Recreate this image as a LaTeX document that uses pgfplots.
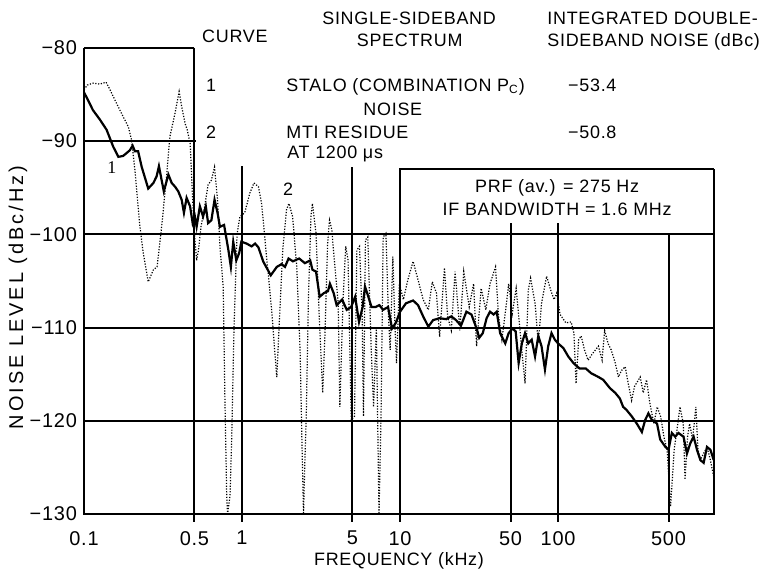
\documentclass[border=0pt]{standalone}
\usepackage{fontspec}
\setmainfont{Liberation Sans}[LetterSpace=4]
\newfontfamily\seriffont{Liberation Serif}
\newfontfamily\widefont{Liberation Sans}[LetterSpace=15]
\usepackage{pgfplots}
\usepackage{pgfplotstable}
\pgfplotsset{compat=1.18}

% curve 1: STALO (combination Pc), solid
\pgfplotstableread{
f db
0.1 -84.8
0.103 -85.2
0.114 -86.7
0.126 -87.7
0.139 -88.8
0.153 -90.6
0.165 -91.7
0.177 -91.6
0.195 -91.0
0.203 -90.5
0.21 -91.1
0.22 -91.1
0.232 -92.8
0.255 -95.1
0.275 -94.5
0.288 -93.8
0.298 -92.7
0.31 -94.2
0.32 -95.4
0.342 -93.6
0.359 -94.5
0.377 -94.9
0.395 -95.4
0.415 -96.3
0.429 -97.7
0.446 -96.1
0.469 -97.0
0.487 -98.8
0.503 -98.1
0.516 -99.2
0.541 -97.0
0.567 -98.1
0.59 -97.0
0.61 -98.8
0.64 -98.5
0.67 -96.3
0.70 -97.7
0.725 -99.2
0.77 -99.0
0.82 -101.7
0.85 -103.5
0.88 -100.8
0.92 -102.8
0.96 -102.0
0.99 -100.8
1.07 -101.0
1.15 -101.3
1.21 -101.0
1.27 -101.4
1.36 -102.9
1.52 -104.4
1.66 -103.5
1.78 -103.2
1.87 -103.5
1.97 -102.6
2.10 -102.9
2.3 -102.6
2.5 -103.1
2.7 -102.8
2.79 -103.8
2.94 -104.0
3.1 -106.7
3.3 -106.3
3.5 -106.1
3.6 -105.3
3.8 -106.3
3.97 -107.6
4.3 -107.0
4.6 -108.1
4.9 -107.8
5.2 -106.7
5.5 -109.4
5.8 -107.8
6.0 -105.6
6.3 -106.7
6.6 -107.8
7.0 -107.8
7.4 -107.6
7.8 -108.1
8.4 -107.8
8.9 -110.1
9.4 -109.5
10.0 -108.3
10.9 -107.4
12.1 -107.1
13.0 -107.6
14.0 -108.8
15.1 -109.9
16.2 -109.2
17.8 -109.0
19.6 -109.1
21.1 -108.8
22.6 -109.2
24.3 -109.8
26.3 -108.3
28.3 -108.6
30.5 -110.1
31.7 -111.1
33.4 -110.6
35.3 -109.0
37.1 -108.3
39.1 -108.6
40.9 -108.3
43.0 -110.6
46.3 -111.7
48.7 -110.6
51.3 -110.1
53.9 -110.4
56.3 -113.8
59.0 -111.7
61.8 -110.6
64.8 -111.7
68.1 -111.3
71.5 -113.1
75.0 -110.9
78.6 -112.0
82.6 -114.5
86.6 -112.0
90.9 -110.6
95.4 -111.3
100 -111.7
108 -112.2
116 -113.1
125 -113.8
137 -114.4
150 -114.4
162 -114.9
180 -115.3
193 -115.6
213 -116.5
230 -117.0
246 -117.6
258 -118.5
270 -118.8
292 -119.5
315 -120.3
339 -121.2
356 -119.9
373 -119.2
392 -119.9
423 -120.3
443 -122.0
478 -122.8
500 -123.1
525 -121.3
551 -121.7
578 -121.3
622 -121.7
654 -123.5
687 -122.4
721 -121.7
757 -123.1
795 -124.2
834 -124.5
876 -122.8
920 -123.1
966 -124.2
}\stalo

% curve 2: MTI residue at 1200 us, dotted
\pgfplotstableread{
f db
0.1 -84.5
0.105 -84.0
0.114 -83.8
0.126 -83.9
0.138 -83.7
0.146 -84.5
0.161 -86.0
0.177 -87.4
0.191 -88.5
0.2 -89.9
0.21 -93.1
0.226 -99.2
0.237 -102.0
0.255 -105.1
0.275 -103.8
0.29 -103.5
0.31 -99.2
0.33 -94.5
0.35 -89.5
0.377 -87.0
0.40 -84.7
0.415 -86.3
0.436 -88.1
0.45 -88.8
0.47 -90.3
0.487 -96.3
0.5 -99.9
0.516 -102.8
0.53 -101.7
0.55 -99.2
0.575 -97.4
0.61 -94.7
0.64 -94.2
0.67 -92.8
0.70 -96.3
0.725 -101.3
0.76 -105.6
0.78 -118.0
0.80 -128.0
0.81 -130.0
0.84 -128.0
0.86 -122.0
0.89 -110.0
0.93 -100.0
0.97 -98.1
1.04 -97.7
1.12 -95.6
1.19 -94.5
1.27 -94.9
1.33 -96.7
1.43 -102.4
1.54 -108.1
1.62 -113.1
1.66 -115.3
1.72 -109.6
1.81 -101.7
1.91 -97.4
1.98 -96.7
2.09 -98.1
2.22 -103.5
2.33 -112.4
2.40 -123.1
2.45 -130.0
2.50 -124.2
2.55 -119.5
2.63 -107.0
2.73 -98.1
2.79 -96.7
2.94 -99.9
3.08 -108.8
3.24 -117.0
3.35 -110.6
3.48 -101.0
3.58 -98.5
3.70 -99.5
3.87 -103.5
4.06 -107.4
4.16 -118.5
4.36 -107.0
4.53 -101.3
4.69 -102.8
4.91 -119.9
5.15 -119.5
5.33 -101.7
5.54 -101.3
5.76 -108.8
5.87 -119.5
6.04 -100.6
6.25 -100.3
6.57 -112.4
6.8 -118.5
7.08 -110.0
7.36 -130.0
7.58 -119.5
7.82 -100.3
8.14 -99.9
8.45 -108.8
8.66 -112.4
9.0 -102.4
9.3 -110.2
9.5 -113.8
9.9 -105.3
10.5 -107.0
11.2 -104.9
12.1 -102.9
13.0 -104.9
14.0 -107.0
15.1 -108.1
16.0 -105.1
17.0 -106.3
17.8 -111.0
19.1 -103.6
20.0 -108.8
21.1 -110.3
22.3 -104.0
23.9 -110.3
25.3 -104.0
27.4 -107.8
29.2 -105.3
30.5 -112.0
32.6 -105.8
34.9 -108.1
37.1 -105.3
40.2 -103.5
42.0 -108.8
44.1 -111.3
46.6 -108.1
48.7 -105.3
51.3 -108.5
54.3 -105.8
57.6 -110.6
61.8 -116.0
64.8 -106.0
67.0 -104.7
71.5 -107.4
75 -111.7
78.6 -107.4
84.6 -104.5
89.9 -106.0
94.3 -107.0
98.1 -106.3
103 -108.6
112 -109.5
121 -109.4
126 -110.6
130 -116.0
135 -111.3
140 -110.9
147 -112.4
155 -113.5
165 -112.8
180 -112.0
190 -113.5
197 -110.3
207 -111.7
217 -112.4
230 -113.8
241 -115.3
252 -114.6
266 -114.2
278 -116.0
292 -117.8
305 -116.3
331 -115.3
346 -117.0
363 -115.6
381 -118.1
404 -120.3
424 -118.5
447 -119.6
467 -121.7
490 -123.1
515 -129.2
543 -123.1
565 -121.0
591 -118.5
620 -120.3
636 -126.3
660 -121.7
680 -120.3
710 -122.0
745 -118.5
768 -123.1
795 -124.2
834 -123.5
876 -122.8
920 -124.2
966 -126.0
}\mti

\begin{document}
\begin{tikzpicture}[font=\fontsize{9}{10}\selectfont,
  frame/.style={line width=1bp},
  lbl/.style={inner sep=0pt}]
  \begin{axis}[
    xmode=log,
    xmin=0.1, xmax=970,
    ymin=-130, ymax=-80,
    scale only axis,
    width=315bp, height=233.2bp,
    clip=false,
    axis line style={draw=none},
    tick style={draw=none},
    xtick={0.1,0.5,1,5,10,50,100,500},
    xticklabels={0.1,0.5,1,5,10,50,100,500},
    ytick={-130,-120,-110,-100,-90,-80},
    yticklabels={−130,−120,−110,−100,−90,−80},
    ticklabel style={font=\fontsize{10}{11}\selectfont},
    xticklabel style={yshift=-5bp},
  ]
    % frame and grid lines
    \draw[frame] (axis cs:0.1,-80) -- (axis cs:0.5,-80);
    \draw[frame] (axis cs:0.1,-80) -- (axis cs:0.1,-130) -- (axis cs:970,-130) -- (axis cs:970,-93);
    \draw[frame] (axis cs:0.5,-80) -- (axis cs:0.5,-130.8);
    \draw[frame] (axis cs:0.1,-90) -- (axis cs:0.51,-90);
    \draw[frame] (axis cs:0.1,-100) -- (axis cs:970,-100);
    \draw[frame] (axis cs:0.1,-110) -- (axis cs:970,-110);
    \draw[frame] (axis cs:0.1,-120) -- (axis cs:970,-120);
    \draw[frame] (axis cs:1,-92.7) -- (axis cs:1,-130.8);
    \draw[frame] (axis cs:5,-92.8) -- (axis cs:5,-130.8);
    \draw[frame] (axis cs:10,-130.8) -- (axis cs:10,-93) -- (axis cs:970,-93);
    \draw[frame] (axis cs:50,-98.8) -- (axis cs:50,-130.8);
    \draw[frame] (axis cs:100,-98.8) -- (axis cs:100,-130.8);
    \draw[frame] (axis cs:500,-100) -- (axis cs:500,-130.8);

    \addplot[black, line width=0.6bp, dash pattern=on 0.6bp off 0.8bp] table[x=f, y=db] {\mti};
    \addplot[black, line width=1.1bp] table[x=f, y=db] {\stalo};

    % header
    \node[lbl, anchor=base west] at (rel axis cs:0.187,1.0101) {CURVE};
    \node[lbl, anchor=base] at (rel axis cs:0.516,1.0487) {SINGLE-SIDEBAND};
    \node[lbl, anchor=base] at (rel axis cs:0.517,1.0026) {SPECTRUM};
    \node[lbl, anchor=base west] at (rel axis cs:0.735,1.0487) {INTEGRATED DOUBLE-};
    \node[lbl, anchor=base west] at (rel axis cs:0.735,1.0026) {SIDEBAND NOISE (dBc)};
    \node[lbl, anchor=base] at (rel axis cs:0.2016,0.9061) {1};
    \node[lbl, anchor=base west] at (rel axis cs:0.3206,0.9061) {STALO (COMBINATION P\textsubscript{C})};
    \node[lbl, anchor=base west] at (rel axis cs:0.768,0.9061) {−53.4};
    \node[lbl, anchor=base west] at (rel axis cs:0.443,0.8546) {NOISE};
    \node[lbl, anchor=base] at (rel axis cs:0.2016,0.8043) {2};
    \node[lbl, anchor=base west] at (rel axis cs:0.3206,0.8043) {MTI RESIDUE};
    \node[lbl, anchor=base west] at (rel axis cs:0.768,0.8043) {−50.8};
    \node[lbl, anchor=base west] at (rel axis cs:0.322,0.7624) {AT 1200 μs};
    \node[lbl, anchor=base] at (rel axis cs:0.751,0.6895) {PRF (av.) = 275 Hz};
    \node[lbl, anchor=base] at (rel axis cs:0.751,0.6401) {IF BANDWIDTH = 1.6 MHz};
    \node[lbl, anchor=base] at (rel axis cs:0.0444,0.731) {\seriffont 1};
    \node[lbl, anchor=base] at (rel axis cs:0.3238,0.684) {2};

    % axis labels
    \node[lbl, anchor=base] at (rel axis cs:0.5,-0.1094) {FREQUENCY (kHz)};
    \node[lbl, rotate=90, anchor=center] at ([xshift=-33bp]rel axis cs:0,0.4645)
      {\widefont\fontsize{10}{11}\selectfont NOISE LEVEL (dBc/Hz)};

    \coordinate (bl) at (rel axis cs:0,0);
    \coordinate (tr) at (rel axis cs:1,1);
  \end{axis}
  \pgfresetboundingbox
  \path[use as bounding box] ([shift={(-42bp,-29.5bp)}]bl) rectangle ([shift={(28.5bp,23.85bp)}]tr);
\end{tikzpicture}
\end{document}
